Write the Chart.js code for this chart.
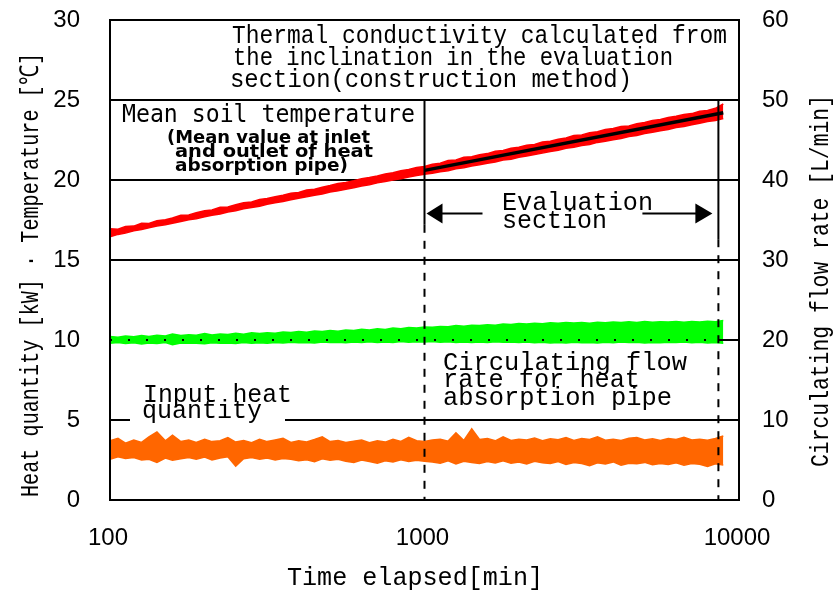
<!DOCTYPE html>
<html>
<head>
<meta charset="utf-8">
<script src="https://cdn.jsdelivr.net/npm/chart.js@4"></script>
<style>
  body { margin: 0; background: #fff; }
  canvas { display: block; }
</style>
</head>
<body>
<canvas id="thermal-chart" width="840" height="590"></canvas>
<script>
// elapsed time [min], log spaced samples
const timeMin = [100,106,112,119,126,133,141,150,158,168,178,188,200,211,224,237,251,266,282,299,316,335,355,376,398,422,447,473,501,531,562,596,631,668,708,750,794,841,891,944,1000,
  1059,1122,1189,1259,1334,1413,1496,1585,1679,1778,1884,1995,2113,2239,2371,2512,2661,2818,2985,3162,3350,3548,3758,3981,4217,4467,4732,5012,5309,5623,5957,6310,6683,7079,7499,7943,8414,8913];

// mean soil temperature [C], upper / lower edge of the noisy trace
const soilTempHigh = [16.95,16.92,17.10,17.12,17.30,17.28,17.45,17.52,17.62,17.80,17.82,17.95,18.08,18.12,18.30,18.32,18.45,18.58,18.62,18.78,18.85,18.95,19.05,19.18,19.22,19.38,19.42,19.55,19.65,19.78,19.85,19.95,20.08,20.15,20.25,20.38,20.45,20.58,20.65,20.78,20.85,
  20.98,21.05,21.22,21.25,21.42,21.45,21.58,21.65,21.80,21.85,21.98,22.05,22.18,22.22,22.38,22.42,22.55,22.62,22.78,22.82,22.95,23.02,23.15,23.22,23.35,23.38,23.52,23.60,23.72,23.78,23.90,23.98,24.10,24.15,24.30,24.35,24.48,24.75];
const soilTempLow = [16.45,16.60,16.68,16.82,16.90,17.02,17.12,17.20,17.30,17.40,17.52,17.58,17.70,17.80,17.88,18.00,18.08,18.20,18.28,18.36,18.48,18.58,18.65,18.76,18.86,18.95,19.05,19.12,19.25,19.32,19.42,19.52,19.62,19.70,19.82,19.90,20.00,20.08,20.18,20.28,20.36,
  20.42,20.52,20.58,20.70,20.76,20.88,20.95,21.05,21.12,21.25,21.30,21.42,21.50,21.60,21.68,21.78,21.86,21.98,22.04,22.15,22.22,22.35,22.42,22.52,22.60,22.72,22.78,22.90,22.98,23.08,23.15,23.28,23.35,23.45,23.55,23.65,23.72,23.85];

// circulating flow rate [L/min]
const flowHigh = [20.45,20.35,20.50,20.40,20.55,20.45,20.60,20.50,20.75,20.55,20.65,
  20.60,20.80,20.62,20.75,20.70,20.85,20.72,20.90,20.80,20.92,
  20.85,21.00,20.95,21.05,20.98,21.12,21.05,21.20,21.10,21.25,
  21.18,21.35,21.25,21.40,21.32,21.50,21.42,21.55,21.50,21.62,
  21.58,21.70,21.65,21.80,21.72,21.85,21.80,21.92,21.85,22.00,
  21.95,22.05,22.00,22.10,22.02,22.15,22.08,22.20,22.12,22.18,
  22.10,22.22,22.15,22.25,22.18,22.28,22.20,22.30,22.22,22.28,
  22.25,22.32,22.22,22.30,22.26,22.35,22.28,22.45];
const flowLow = [19.60,19.70,19.55,19.65,19.50,19.62,19.55,19.68,19.40,19.62,19.58,
  19.60,19.52,19.65,19.58,19.62,19.55,19.68,19.60,19.66,19.58,
  19.68,19.62,19.72,19.65,19.70,19.62,19.75,19.68,19.72,19.66,
  19.75,19.68,19.78,19.70,19.76,19.68,19.80,19.72,19.78,19.75,
  19.80,19.72,19.78,19.70,19.76,19.68,19.75,19.70,19.78,19.72,
  19.76,19.68,19.74,19.66,19.72,19.64,19.70,19.62,19.72,19.66,
  19.70,19.64,19.72,19.66,19.74,19.68,19.72,19.62,19.70,19.66,
  19.72,19.68,19.74,19.66,19.72,19.64,19.70,19.60];

// input heat quantity [kW]
const heatHigh = [3.70,3.85,3.55,3.75,3.60,3.95,4.25,3.70,4.05,3.65,3.75,
  3.60,3.80,3.65,3.70,3.90,3.62,3.72,3.58,3.80,3.65,
  3.75,3.85,3.60,3.70,3.62,3.78,3.95,3.65,3.72,3.60,
  3.68,3.75,3.58,3.70,3.62,3.80,3.66,3.92,3.70,3.65,
  3.75,3.80,3.68,4.20,3.72,4.45,3.78,3.85,3.70,3.95,
  3.72,3.80,3.75,3.88,3.70,3.82,3.76,3.90,3.72,3.85,
  3.78,3.95,3.74,3.80,3.72,3.86,3.90,3.75,3.82,3.72,
  3.85,3.78,3.92,3.75,3.80,3.74,3.85,4.00];
const heatLow = [2.55,2.70,2.60,2.65,2.50,2.55,2.35,2.62,2.48,2.58,2.65,
  2.55,2.68,2.50,2.62,2.70,2.12,2.58,2.66,2.55,2.62,
  2.50,2.60,2.55,2.45,2.52,2.40,2.58,2.48,2.55,2.42,
  2.35,2.50,2.40,2.30,2.45,2.38,2.52,2.40,2.48,2.42,
  2.38,2.30,2.45,2.25,2.42,2.35,2.28,2.40,2.32,2.45,
  2.30,2.38,2.25,2.42,2.32,2.28,2.40,2.22,2.35,2.28,
  2.15,2.32,2.25,2.38,2.18,2.30,2.26,2.35,2.20,2.28,
  2.22,2.32,2.18,2.28,2.24,2.10,2.26,2.18];

// straight fit over the evaluation section
const fitTime = [1000, 8913];
const fitTemp = [20.6, 24.2];

const evalSection = [1000, 8600];

const xTicks = [100, 1000, 10000];
const leftTicks = [0, 5, 10, 15, 20, 25, 30];
const rightTicks = [0, 10, 20, 30, 40, 50, 60];

const pts = (xs, ys) => xs.map((t, i) => ({ x: t, y: ys[i] }));

const band = (label, data, color, axis, fill) => ({
  label: label,
  data: data,
  yAxisID: axis,
  borderColor: color,
  backgroundColor: color,
  borderWidth: 1.5,
  pointRadius: 0,
  tension: 0,
  fill: fill
});

// draw text squeezed/stretched to a given width
function fitText(ctx, str, x, y, font, width, rot) {
  ctx.save();
  ctx.font = font;
  ctx.fillStyle = '#000';
  ctx.textBaseline = 'alphabetic';
  ctx.textAlign = 'left';
  const w = ctx.measureText(str).width;
  ctx.translate(x, y);
  if (rot) {
    ctx.rotate(-Math.PI / 2);
    ctx.translate(-width / 2, 0);
  }
  ctx.scale(width / w, 1);
  ctx.fillText(str, 0, 0);
  ctx.restore();
}

function line(ctx, x1, y1, x2, y2) {
  ctx.beginPath();
  ctx.moveTo(x1, y1);
  ctx.lineTo(x2, y2);
  ctx.stroke();
}

const MONO = '"Liberation Mono", monospace';
const GOTHIC = '"DejaVu Sans Mono", monospace';

const decorations = {
  id: 'decorations',
  beforeDatasetsDraw(chart) {
    const { ctx, chartArea: a, scales: { y } } = chart;
    ctx.save();
    ctx.strokeStyle = '#000';
    ctx.lineWidth = 2;
    [15, 20, 25].forEach(v => line(ctx, a.left, y.getPixelForValue(v), a.right, y.getPixelForValue(v)));
    // line at 5 broken by the "Input heat quantity" label
    const y5 = y.getPixelForValue(5);
    line(ctx, a.left, y5, a.left + 20, y5);
    line(ctx, a.left + 175, y5, a.right, y5);
    ctx.restore();
  },
  afterDatasetsDraw(chart) {
    const { ctx, chartArea: a, scales: { x, y, y2 } } = chart;
    ctx.save();
    ctx.strokeStyle = '#000';
    ctx.fillStyle = '#000';

    // dotted line at 10
    const y10 = y.getPixelForValue(10);
    ctx.lineWidth = 2;
    ctx.setLineDash([2, 16]);
    line(ctx, a.left, y10, a.right, y10);
    ctx.setLineDash([]);
    line(ctx, a.right - 21, y10, a.right, y10);

    // evaluation section bounds
    const xs = x.getPixelForValue(evalSection[0]);
    const xe = x.getPixelForValue(evalSection[1]);
    const y25 = y.getPixelForValue(25);
    line(ctx, xs, y25, xs, y.getPixelForValue(17.2));
    line(ctx, xe, y25, xe, y.getPixelForValue(16.3));
    ctx.setLineDash([8, 8]);
    line(ctx, xs, y.getPixelForValue(17.2), xs, a.bottom);
    line(ctx, xe, y.getPixelForValue(16.3), xe, a.bottom);
    ctx.setLineDash([]);

    // arrows
    const ya = y.getPixelForValue(17.9);
    line(ctx, xs + 10, ya, xs + 58, ya);
    line(ctx, xe - 76, ya, xe - 15, ya);
    ctx.beginPath();
    ctx.moveTo(xs + 2, ya); ctx.lineTo(xs + 18, ya - 10); ctx.lineTo(xs + 18, ya + 10); ctx.closePath();
    ctx.fill();
    ctx.beginPath();
    ctx.moveTo(xe - 6, ya); ctx.lineTo(xe - 23, ya - 10); ctx.lineTo(xe - 23, ya + 10); ctx.closePath();
    ctx.fill();

    // frame
    ctx.lineWidth = 2;
    ctx.strokeRect(a.left, a.top, a.right - a.left, a.bottom - a.top);

    // annotations
    fitText(ctx, 'Thermal conductivity calculated from', 232, 43, '26px ' + MONO, 495);
    fitText(ctx, 'the inclination in the evaluation', 233, 65, '26px ' + MONO, 440);
    fitText(ctx, 'section(construction method)', 230, 87, '26px ' + MONO, 402);

    fitText(ctx, 'Mean soil temperature', 122, 122, '25px ' + GOTHIC, 293);
    fitText(ctx, '(Mean value at inlet', 167, 143, 'bold 17px "DejaVu Sans", sans-serif', 203);
    fitText(ctx, 'and outlet of heat', 175, 157, 'bold 17px "DejaVu Sans", sans-serif', 198);
    fitText(ctx, 'absorption pipe)', 175, 171, 'bold 17px "DejaVu Sans", sans-serif', 173);

    fitText(ctx, 'Evaluation', 502, 210, '26px ' + MONO, 151);
    fitText(ctx, 'section', 502, 228, '26px ' + MONO, 105);

    fitText(ctx, 'Circulating flow', 443, 370, '26px ' + MONO, 244);
    fitText(ctx, 'rate for heat', 443, 387, '26px ' + MONO, 197);
    fitText(ctx, 'absorption pipe', 443, 405, '26px ' + MONO, 229);

    fitText(ctx, 'Input heat', 143, 402, '25px ' + MONO, 149);
    fitText(ctx, 'quantity', 142, 418, '25px ' + MONO, 120);

    // tick labels
    ctx.font = '24px "Liberation Sans", Arial, sans-serif';
    ctx.textBaseline = 'middle';
    ctx.textAlign = 'right';
    leftTicks.forEach(v => ctx.fillText(String(v), 80, y.getPixelForValue(v)));
    ctx.textAlign = 'left';
    rightTicks.forEach(v => ctx.fillText(String(v), 762, y2.getPixelForValue(v)));
    ctx.textAlign = 'center';
    xTicks.forEach(v => ctx.fillText(String(v), x.getPixelForValue(v) - 2, 538));

    // axis titles
    fitText(ctx, 'Time elapsed[min]', 287, 585, '25px ' + MONO, 256);
    fitText(ctx, 'Heat quantity [kW] · Temperature [℃]', 38, 275, '26px ' + MONO, 444, true);
    fitText(ctx, 'Circulating flow rate [L/min]', 828, 281, '26px ' + MONO, 372, true);
    ctx.restore();
  }
};

new Chart(document.getElementById('thermal-chart'), {
  type: 'line',
  data: {
    datasets: [
      band('Mean soil temperature', pts(timeMin, soilTempHigh), '#ff0000', 'y', '+1'),
      band('Mean soil temperature (low)', pts(timeMin, soilTempLow), '#ff0000', 'y', false),
      band('Circulating flow rate', pts(timeMin, flowHigh), '#00ff00', 'y2', '+1'),
      band('Circulating flow rate (low)', pts(timeMin, flowLow), '#00ff00', 'y2', false),
      band('Input heat quantity', pts(timeMin, heatHigh), '#ff6600', 'y', '+1'),
      band('Input heat quantity (low)', pts(timeMin, heatLow), '#ff6600', 'y', false),
      {
        label: 'Fit',
        data: pts(fitTime, fitTemp),
        yAxisID: 'y',
        borderColor: '#000',
        borderWidth: 3.5,
        pointRadius: 0,
        fill: false,
        order: -1
      }
    ]
  },
  options: {
    responsive: false,
    animation: false,
    devicePixelRatio: 1,
    layout: { padding: { top: 20, left: 0, right: 0, bottom: 0 } },
    plugins: {
      legend: { display: false },
      tooltip: { enabled: false }
    },
    scales: {
      x: {
        type: 'logarithmic',
        min: 100,
        max: 10000,
        grid: { display: false },
        border: { display: false },
        ticks: { display: false },
        afterFit: s => { s.height = 90; }
      },
      y: {
        position: 'left',
        min: 0,
        max: 30,
        grid: { display: false },
        border: { display: false },
        ticks: { display: false, stepSize: 5 },
        afterFit: s => { s.width = 110; }
      },
      y2: {
        position: 'right',
        min: 0,
        max: 60,
        grid: { display: false },
        border: { display: false },
        ticks: { display: false, stepSize: 10 },
        afterFit: s => { s.width = 101; }
      }
    }
  },
  plugins: [decorations]
});
</script>
</body>
</html>
